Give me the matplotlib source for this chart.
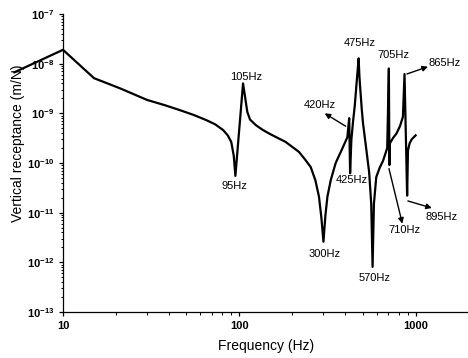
import numpy as np
import matplotlib
matplotlib.use('Agg')
import matplotlib.pyplot as plt
from matplotlib.ticker import LogLocator, FuncFormatter, NullFormatter

plt.rcParams['font.family'] = ['Liberation Sans', 'DejaVu Sans']
plt.rcParams['mathtext.fontset'] = 'custom'
plt.rcParams['mathtext.bf'] = 'Liberation Sans:bold'
plt.rcParams['mathtext.rm'] = 'Liberation Sans'

# measured vertical receptance vs frequency
freq = [5.3, 10, 15, 21, 30, 38, 46, 55, 65, 73, 81, 86, 90, 93, 95, 105,
        111, 115, 124, 135, 148, 165, 183, 200, 218, 235, 254, 270, 283,
        292, 300, 308, 316, 330, 352, 385, 410, 420, 425, 432, 441, 451,
        458, 464, 470, 475, 480, 486, 495, 503, 526, 545, 560, 570, 580,
        598, 625, 653, 690, 705, 710, 715, 745, 778, 815, 847, 865, 895,
        905, 925, 950, 1000]
recept = [6.7e-9, 1.9e-8, 5.1e-9, 3.2e-9, 1.86e-9, 1.45e-9, 1.16e-9, 9.3e-10,
          7.3e-10, 6.0e-10, 4.6e-10, 3.6e-10, 2.66e-10, 1.4e-10, 5.5e-11,
          4.0e-9, 1.07e-9, 7.5e-10, 5.8e-10, 4.7e-10, 3.9e-10, 3.2e-10,
          2.66e-10, 2.1e-10, 1.67e-10, 1.2e-10, 8.3e-11, 4.5e-11, 2.1e-11,
          8.0e-12, 2.6e-12, 9.0e-12, 2.1e-11, 4.5e-11, 1.0e-10, 2.0e-10,
          3.3e-10, 8.0e-10, 6.2e-11, 2.9e-10, 6.5e-10, 1.35e-9, 2.6e-9,
          4.7e-9, 8.0e-9, 1.28e-8, 5.5e-9, 2.9e-9, 1.2e-9, 6.3e-10, 1.8e-10,
          6.5e-11, 1.5e-11, 8.1e-13, 1.5e-11, 5.2e-11, 8.0e-11, 1.1e-10,
          2.0e-10, 8.0e-9, 9.1e-11, 2.5e-10, 3.2e-10, 3.9e-10, 5.5e-10,
          8.5e-10, 6.2e-9, 2.2e-11, 1.8e-10, 2.5e-10, 3.0e-10, 3.6e-10]

xticks = [10, 100, 1000]
yticks = [1e-13, 1e-12, 1e-11, 1e-10, 1e-9, 1e-8, 1e-7]

# plain labels: (text, x, y)
labels = [('105Hz', 109, 5.5e-9), ('95Hz', 94.4, 3.4e-11),
          ('475Hz', 482, 2.57e-8), ('705Hz', 753, 1.49e-8),
          ('425Hz', 432, 4.5e-11), ('300Hz', 306, 1.5e-12),
          ('570Hz', 583, 4.8e-13)]
# arrowed labels: (text, text pos, arrow tail, arrow head)
arrowed = [('420Hz', (286, 1.46e-9), (401, 5.5e-10), (305, 1.0e-9)),
           ('865Hz', (1459, 1.05e-8), (893, 6.2e-9), (1175, 8.7e-9)),
           ('710Hz', (863, 4.5e-12), (706, 7.7e-11), (841, 6.0e-12)),
           ('895Hz', (1403, 8.2e-12), (904, 1.72e-11), (1236, 1.24e-11))]

fig = plt.figure(figsize=(4.68, 3.58), dpi=100)
ax = fig.add_axes([0.1346, 0.1285, 0.8669, 0.8324])

ax.plot(freq, recept, color='black', lw=1.6, clip_on=False, zorder=3)

ax.set_xscale('log')
ax.set_yscale('log')
ax.set_xlim(10, 2000)
ax.set_ylim(1e-13, 1e-7)

ax.spines['top'].set_visible(False)
ax.spines['right'].set_visible(False)
for s in ['left', 'bottom']:
    ax.spines[s].set_linewidth(0.9)

ax.set_xticks(xticks)
ax.xaxis.set_major_formatter(FuncFormatter(lambda v, p: '%d' % v))
ax.xaxis.set_minor_locator(LogLocator(base=10, subs=np.arange(2, 10)))
ax.xaxis.set_minor_formatter(NullFormatter())
ax.set_yticks(yticks)
ax.yaxis.set_major_formatter(
    FuncFormatter(lambda v, p: r'$\mathbf{10^{%d}}$' % round(np.log10(v))))
ax.yaxis.set_minor_locator(LogLocator(base=10, subs=np.arange(2, 10), numticks=20))
ax.yaxis.set_minor_formatter(NullFormatter())

ax.tick_params(which='major', direction='out', length=3.2, width=0.9, pad=3,
               labelsize=8)
ax.tick_params(which='minor', direction='out', length=1.8, width=0.7)
for t in ax.get_xticklabels():
    t.set_fontweight('bold')

ax.set_xlabel('Frequency (Hz)', fontsize=10)
ax.set_ylabel('Vertical receptance (m/N)', fontsize=10)
ax.xaxis.set_label_coords(0.5, -0.09)
ax.yaxis.set_label_coords(-0.094, 0.567)

for txt, x, y in labels:
    ax.text(x, y, txt, fontsize=8, ha='center', va='center')

for txt, tpos, tail, head in arrowed:
    ax.text(tpos[0], tpos[1], txt, fontsize=8, ha='center', va='center')
    ax.annotate('', xy=head, xytext=tail,
                arrowprops=dict(arrowstyle='-|>', color='black', lw=1,
                                mutation_scale=8, shrinkA=0, shrinkB=0))

fig.savefig('out.png', dpi=100)
